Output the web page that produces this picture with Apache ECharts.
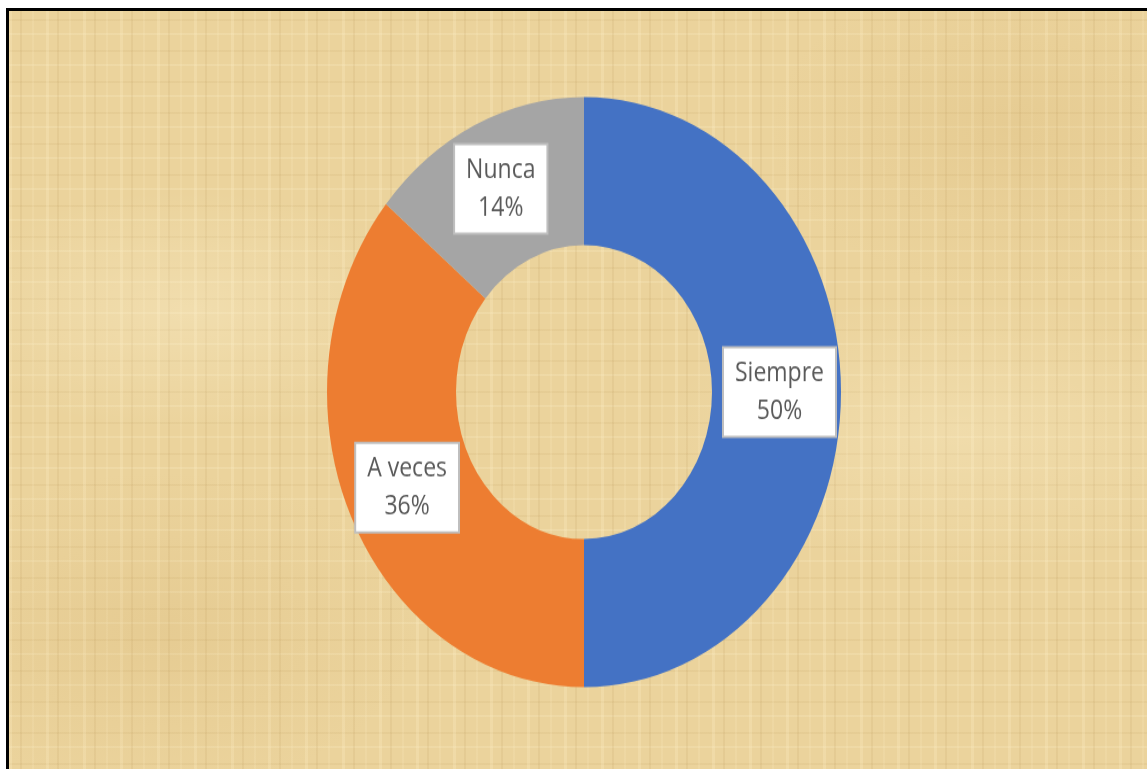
<!DOCTYPE html>
<html>
<head>
<meta charset="utf-8">
<script src="https://cdn.jsdelivr.net/npm/echarts@6/dist/echarts.min.js"></script>
<style>
html, body { margin: 0; padding: 0; width: 1147px; height: 769px; overflow: hidden; background: #fff; }
#frame {
    position: absolute; left: 6px; top: 8px; right: -10px; bottom: -10px;
    border-top: 3px solid #000; border-left: 3px solid #000;
    background-color: #ebd39c;
    background-image:
        radial-gradient(ellipse 260px 120px at 180px 300px, rgba(255,245,215,0.3), transparent),
        radial-gradient(ellipse 300px 140px at 950px 420px, rgba(255,245,215,0.25), transparent),
        radial-gradient(ellipse 240px 160px at 1000px 120px, rgba(200,160,90,0.15), transparent),
        radial-gradient(ellipse 260px 160px at 150px 620px, rgba(200,160,90,0.15), transparent),
        repeating-linear-gradient(90deg, rgba(255,240,200,0.25) 0 3px, transparent 3px 11px, rgba(160,120,55,0.09) 11px 13px, transparent 13px 23px, rgba(255,240,200,0.15) 23px 25px, transparent 25px 37px),
        repeating-linear-gradient(0deg, rgba(255,245,210,0.18) 0 2px, transparent 2px 14px, rgba(160,120,50,0.07) 14px 16px, transparent 16px 31px);
}
#chart { position: absolute; left: 0; top: 0; width: 1147px; height: 670px; transform: scaleY(1.148); transform-origin: 0 0; }
</style>
</head>
<body>
<div id="frame"></div>
<div id="chart"></div>
<script>
// respuestas de la encuesta
var categories = ['Siempre', 'A veces', 'Nunca'];
var values = [50, 36, 14];
var colors = ['#4472C4', '#ED7D31', '#A5A5A5'];

var chart = echarts.init(document.getElementById('chart'), null, { renderer: 'canvas' });

var data = [];
for (var i = 0; i < categories.length; i++) {
    data.push({ name: categories[i], value: values[i], itemStyle: { color: colors[i] } });
}

var option = {
    backgroundColor: 'transparent',
    animation: false,
    series: [{
        type: 'pie',
        center: [584, 341.5],
        radius: [128, 257],
        startAngle: 90,
        clockwise: true,
        silent: true,
        itemStyle: { borderWidth: 0 },
        label: {
            show: true,
            position: 'inside',
            formatter: '{b}\n{d}%',
            fontFamily: 'Open Sans',
            fontSize: 23,
            lineHeight: 33,
            color: '#595959',
            backgroundColor: '#ffffff',
            borderColor: '#bfbfbf',
            borderWidth: 2,
            padding: [5, 11],
            align: 'center'
        },
        labelLine: { show: false },
        data: data
    }]
};
chart.setOption(option);
</script>
</body>
</html>
